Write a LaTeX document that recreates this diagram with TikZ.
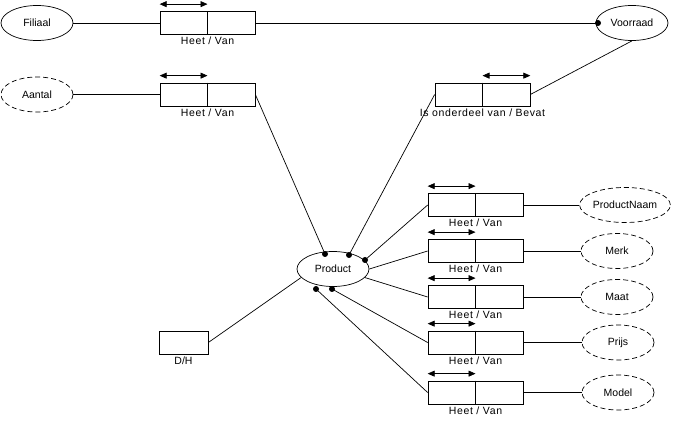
\documentclass[tikz,border=0pt]{standalone}
\usepackage{fontspec}
\setmainfont{Liberation Sans}
\usetikzlibrary{arrows.meta,shapes.geometric}
\begin{document}
\begin{tikzpicture}[x=1pt,y=-1pt,line width=0.7pt,
    font=\fontsize{10.5}{12}\selectfont,
    ent/.style={draw,ellipse,minimum width=72pt,minimum height=35pt,inner sep=0pt},
    attr/.style={ent,dash pattern=on 5pt off 3pt},
    rel/.style={draw,minimum width=95pt,minimum height=23pt,inner sep=0pt,
        label={[inner sep=2pt,font=\fontsize{10.5}{12}\selectfont\addfontfeatures{LetterSpace=6}]below:#1}},
    dot/.style={circle,fill,inner sep=0pt,minimum size=6pt},
    role/.style={{Triangle[length=7pt,width=6pt]}-{Triangle[length=7pt,width=6pt]}}]
\useasboundingbox (0,0) rectangle (675,422);
% entities
\node[ent] (filiaal) at (37,23) {Filiaal};
\node[ent] (voorraad) at (632,23) {Voorraad};
\node[ent] (product) at (333,269) {Product};
% attributes
\node[attr] (aantal) at (37,94.5) {Aantal};
\node[attr,minimum width=88pt] (naam) at (625,205) {ProductNaam};
\node[attr] (merk) at (617,251) {Merk};
\node[attr] (maat) at (617,297) {Maat};
\node[attr] (prijs) at (618,342.5) {Prijs};
\node[attr] (model) at (618,392.5) {Model};
% relations
\node[rel=Heet / Van] (heetfil) at (207.5,23) {};
\node[rel=Heet / Van] (heetaan) at (207.5,94.5) {};
\node[rel=Is onderdeel van / Bevat] (bevat) at (482.5,94.5) {};
\node[rel=Heet / Van] (heetnaam) at (475.5,205) {};
\node[rel=Heet / Van] (heetmerk) at (475.5,251) {};
\node[rel=Heet / Van] (heetmaat) at (475.5,297) {};
\node[rel=Heet / Van] (heetprijs) at (475.5,342.5) {};
\node[rel=Heet / Van] (heetmodel) at (475.5,392.5) {};
\node[draw,minimum width=49pt,minimum height=23pt,inner sep=0pt,
    label={[inner sep=2pt]below:D/H}] (dh) at (183.5,342.5) {};
\foreach \b in {heetfil,heetaan,bevat,heetnaam,heetmerk,heetmaat,heetprijs,heetmodel}
    \draw (\b.north) -- (\b.south);
\foreach \b in {heetfil,heetaan,heetnaam,heetmerk,heetmaat,heetprijs,heetmodel}
    \draw[role] ([yshift=7pt]\b.north west) -- ([yshift=7pt]\b.north);
\draw[role] ([yshift=7pt]bevat.north) -- ([yshift=7pt]bevat.north east);
% dots
\node[dot] (vdot) at (598,23) {};
\node[dot] (pdot1) at (325,254) {};
\node[dot] (pdot2) at (349,255) {};
\node[dot] (pdot3) at (365,260) {};
\node[dot] (pdot4) at (316,289) {};
\node[dot] (pdot5) at (332,289) {};
% connectors
\draw (filiaal) -- (heetfil);
\draw (heetfil) -- (vdot.center);
\draw (aantal) -- (heetaan);
\draw (heetaan.east) -- (pdot1.center);
\draw (voorraad.south) -- (bevat.east);
\draw (bevat.west) -- (pdot2.center);
\draw (pdot3.center) -- (heetnaam.west);
\draw (product.east) -- (heetmerk.west);
\draw (product.-15) -- (heetmaat.west);
\draw (pdot5.center) -- (heetprijs.west);
\draw (pdot4.center) -- (heetmodel.west);
\draw (dh.east) -- (product.-165);
\draw (heetnaam) -- (naam);
\draw (heetmerk) -- (merk);
\draw (heetmaat) -- (maat);
\draw (heetprijs) -- (prijs);
\draw (heetmodel) -- (model);
\end{tikzpicture}
\end{document}
